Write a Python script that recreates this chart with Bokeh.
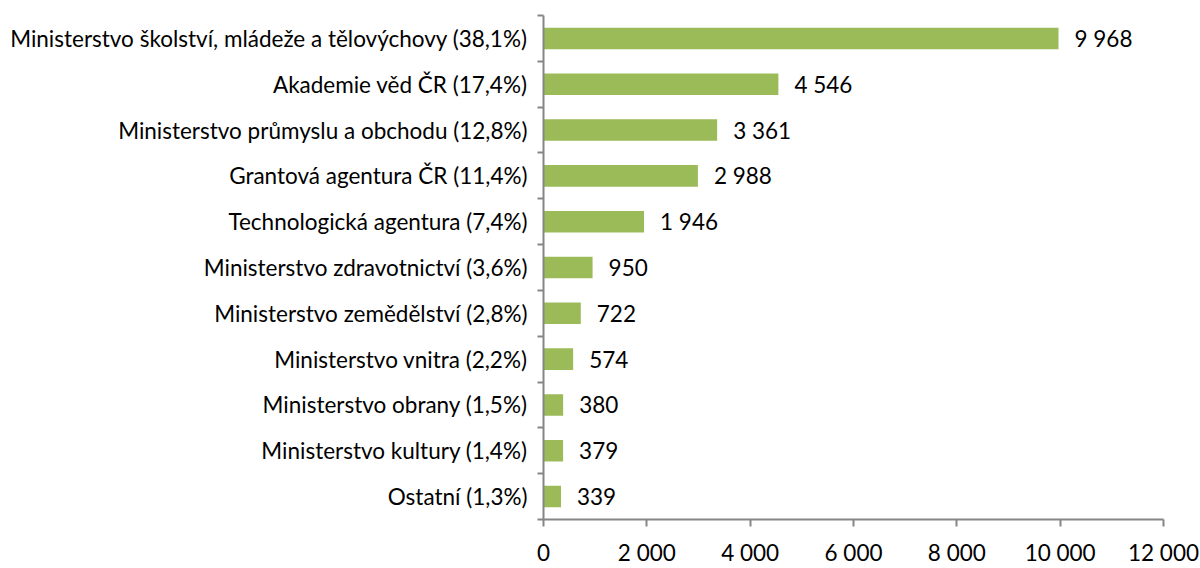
from bokeh.plotting import figure
from bokeh.models import FixedTicker, ColumnDataSource, Range1d
from bokeh.core.properties import value
from bokeh.embed import file_html
from bokeh.resources import INLINE

categories = [
    "Ministerstvo školství, mládeže a tělovýchovy (38,1%)",
    "Akademie věd ČR (17,4%)",
    "Ministerstvo průmyslu a obchodu (12,8%)",
    "Grantová agentura ČR (11,4%)",
    "Technologická agentura (7,4%)",
    "Ministerstvo zdravotnictví (3,6%)",
    "Ministerstvo zemědělství (2,8%)",
    "Ministerstvo vnitra (2,2%)",
    "Ministerstvo obrany (1,5%)",
    "Ministerstvo kultury (1,4%)",
    "Ostatní (1,3%)",
]
values = [9968, 4546, 3361, 2988, 1946, 950, 722, 574, 380, 379, 339]
x_ticks = [0, 2000, 4000, 6000, 8000, 10000, 12000]

FONT = "Lato"
FS = "22.5px"
n = len(categories)
ypos = [n - 0.5 - i for i in range(n)]
labels = [f"{v:,}".replace(",", " ") for v in values]
src = ColumnDataSource(dict(y=ypos, v=values, lab=labels))

p = figure(width=1200, height=568, output_backend="svg", toolbar_location=None,
           x_range=Range1d(0, 12000), y_range=Range1d(0, n),
           min_border_left=543, min_border_right=37, min_border_top=15, min_border_bottom=43)
p.outline_line_color = None
p.grid.grid_line_color = None

p.hbar(y="y", right="v", left=0, height=0.47, source=src, color="#9BBB59", line_color=None)
p.text(x="v", y="y", text="lab", source=src, x_offset=16, text_baseline="middle",
       text_align="left", text_font=value(FONT), text_font_size=FS, text_color="#000000")

AX = "#868686"
ya = p.yaxis[0]
ya.ticker = FixedTicker(ticks=ypos, minor_ticks=list(range(n + 1)))
ya.major_label_overrides = {y: c for y, c in zip(ypos, categories)}
ya.major_tick_line_color = None
ya.minor_tick_in = 0
ya.minor_tick_out = 6
ya.minor_tick_line_color = AX
ya.minor_tick_line_width = 2
ya.axis_line_color = AX
ya.axis_line_width = 2
ya.major_label_text_font = FONT
ya.major_label_text_font_size = FS
ya.major_label_text_color = "#000000"
ya.major_label_standoff = 10

xa = p.xaxis[0]
xa.ticker = FixedTicker(ticks=x_ticks)
xa.major_label_overrides = {t: f"{t:,}".replace(",", " ") for t in x_ticks}
xa.major_tick_in = 0
xa.major_tick_out = 7
xa.major_tick_line_color = AX
xa.major_tick_line_width = 2
xa.minor_tick_line_color = None
xa.axis_line_color = AX
xa.axis_line_width = 2
xa.major_label_text_font = FONT
xa.major_label_text_font_size = FS
xa.major_label_text_color = "#000000"
xa.major_label_standoff = 12

open("out.html", "w").write(file_html(p, INLINE))
